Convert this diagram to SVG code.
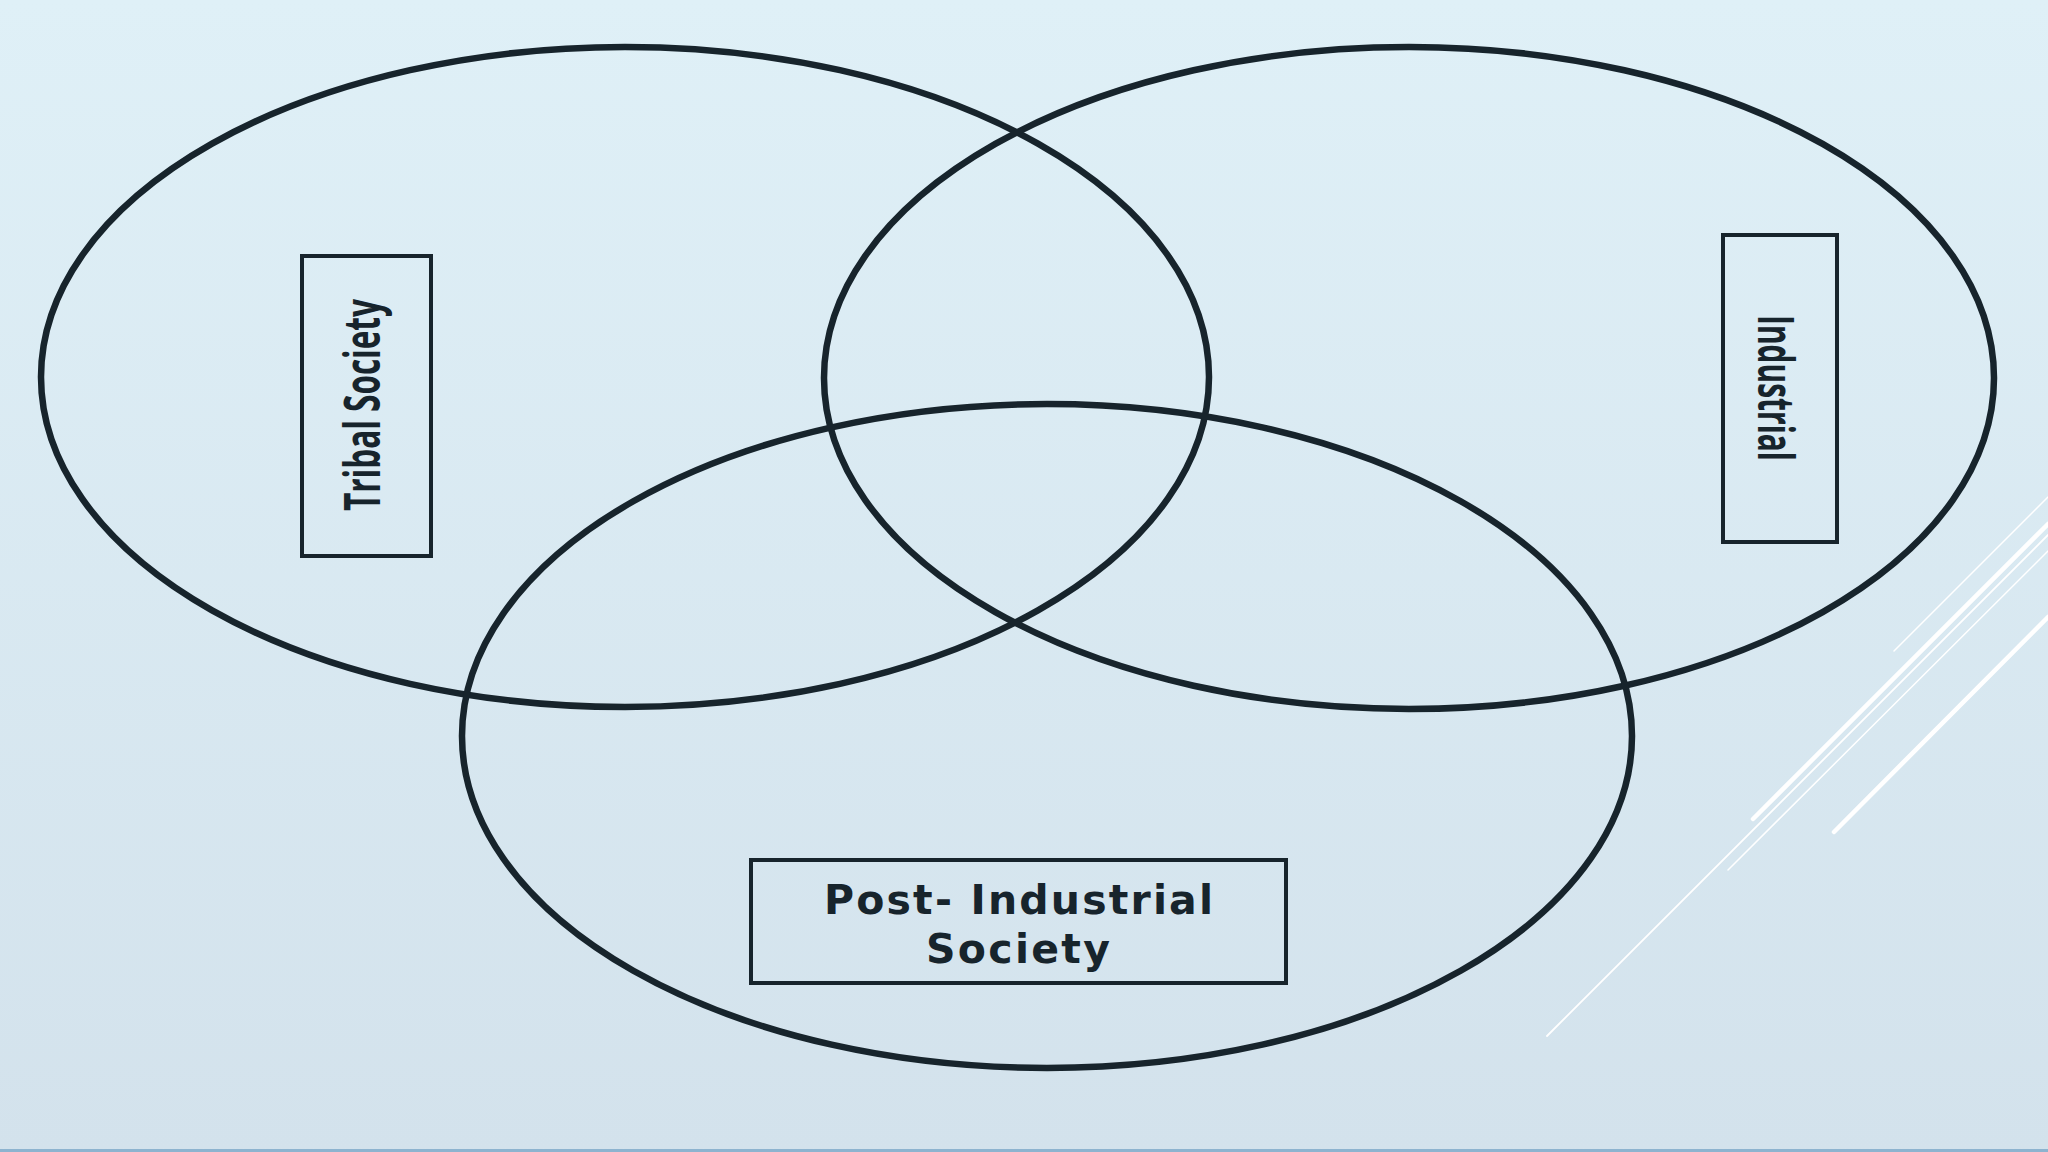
<svg xmlns="http://www.w3.org/2000/svg" width="2048" height="1152" viewBox="0 0 2048 1152">
  <defs>
    <linearGradient id="bg" x1="0" y1="0" x2="0" y2="1">
      <stop offset="0" stop-color="#dff0f7"/>
      <stop offset="1" stop-color="#d3e2ec"/>
    </linearGradient>
    <style>
      .ring { fill: none; stroke: #17242c; stroke-width: 6.5; }
      .box { fill: none; stroke: #17242c; stroke-width: 4; }
      .vlabel { font-family: "Open Sans", "Liberation Sans", Arial, sans-serif; font-weight: 700; font-size: 50px; fill: #17242c; }
      .hlabel { font-family: "DejaVu Sans", Verdana, sans-serif; font-weight: bold; font-size: 41px; fill: #17242c; }
      .deco { stroke: #ffffff; stroke-linecap: round; fill: none; }
    </style>
  </defs>

  <rect x="0" y="0" width="2048" height="1152" fill="url(#bg)"/>
  <rect x="0" y="1149" width="2048" height="3" fill="#8db3cf"/>

  <g id="decoration">
    <line class="deco" x1="1894" y1="651" x2="2048" y2="497" stroke-width="1.5"/>
    <line class="deco" x1="1753" y1="819" x2="2048" y2="524" stroke-width="4.5"/>
    <line class="deco" x1="1547" y1="1036" x2="2048" y2="535" stroke-width="1.8"/>
    <line class="deco" x1="1728" y1="870" x2="2048" y2="551" stroke-width="1.5"/>
    <line class="deco" x1="1834" y1="832" x2="2048" y2="617" stroke-width="4.5"/>
  </g>

  <g id="circle-tribal">
    <ellipse class="ring" cx="625" cy="377" rx="584" ry="330"/>
  </g>
  <g id="circle-industrial">
    <ellipse class="ring" cx="1409" cy="378" rx="585" ry="331"/>
  </g>
  <g id="circle-post-industrial">
    <ellipse class="ring" cx="1047" cy="736" rx="585" ry="332"/>
  </g>

  <g id="node-tribal">
    <rect class="box" x="302" y="256" width="129" height="300"/>
    <text class="vlabel" transform="translate(380,405) rotate(-90)" text-anchor="middle" textLength="212" lengthAdjust="spacingAndGlyphs">Tribal Society</text>
  </g>

  <g id="node-industrial">
    <rect class="box" x="1723" y="235" width="114" height="307"/>
    <text class="vlabel" transform="translate(1758,388) rotate(90)" text-anchor="middle" textLength="146" lengthAdjust="spacingAndGlyphs">Industrial</text>
  </g>

  <g id="node-post-industrial">
    <rect class="box" x="751" y="860" width="535" height="123"/>
    <text class="hlabel" x="824" y="914" textLength="389" lengthAdjust="spacing">Post- Industrial</text>
    <text class="hlabel" x="926" y="963" textLength="184" lengthAdjust="spacing">Society</text>
  </g>

  <g id="connectors"></g>
</svg>
